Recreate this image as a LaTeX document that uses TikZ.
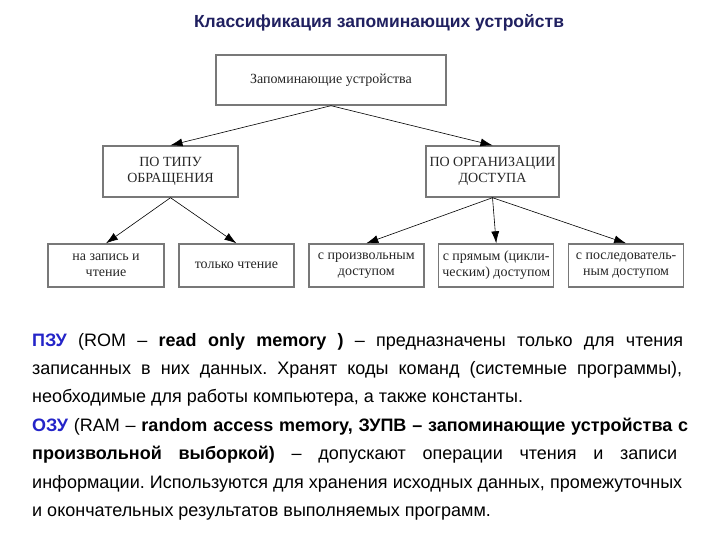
\documentclass[tikz,border=0pt]{standalone}
\usepackage{fontspec}
\setmainfont{Liberation Sans}
\newfontfamily\boxfont{Liberation Serif}
\usetikzlibrary{%
  positioning,
  arrows.meta,
}
\definecolor{titlenavy}{RGB}{32,32,96}
\definecolor{keyblue}{RGB}{36,36,200}
\definecolor{framegray}{RGB}{120,120,120}
\newcommand{\keyterm}[1]{\textbf{\textcolor{keyblue}{#1}}}
\newcommand{\fullline}[2][651pt]{\makebox[#1][s]{#2}}
\frenchspacing

\begin{document}
\begin{tikzpicture}[
    x=1pt, y=-1pt,
    every text node part/.style={align=center},
    node distance=13.5pt,
    device/.style={
      % The shape:
      rectangle,
      % The border:
      draw=framegray,
      line width=1.4pt,
      % The text:
      font=\boxfont\fontsize{14}{16}\selectfont,
      text=black!85,
      inner sep=0pt,
    },
    leaf/.style={device, minimum width=115pt, minimum height=43pt},
    link/.style={-{Latex[length=12pt, width=8pt]}, semithick, black},
    textline/.style={
      anchor=base west,
      inner sep=0pt,
      align=left,
      font=\fontsize{18}{21}\selectfont,
    }]

    \useasboundingbox (0,0) rectangle (720,540);

    \node[font=\bfseries\fontsize{17.5}{20}\selectfont, text=titlenavy, anchor=base]
      (title) at (379,28) {Классификация запоминающих устройств};

    % the tree
    \node[device, minimum width=230pt, minimum height=50pt] (devices) at (331,80) {Запоминающие устройства};
    \node[device, minimum width=135pt, minimum height=51pt] (bytype) at (170.5,171.5) {ПО ТИПУ\\ОБРАЩЕНИЯ};
    \node[device, minimum width=133pt, minimum height=51pt] (byaccess) at (492.5,171.5) {ПО ОРГАНИЗАЦИИ\\ДОСТУПА};

    \node[leaf, minimum width=116pt] (readwrite) at (106,265.5) {на запись и\\чтение};
    \node[leaf] (readonly) [right=of readwrite] {только чтение};
    \node[leaf] (random) [right=of readonly] {с произвольным\\доступом};
    \node[leaf] (direct) [right=of random] {с прямым (цикли-\\ческим) доступом};
    \node[leaf] (serial) [right=of direct] {с последователь-\\ным доступом};

    \draw[link] (devices.south) -- (bytype.north);
    \draw[link] (devices.south) -- (byaccess.north);
    \draw[link] (bytype.south) -- (readwrite.north);
    \draw[link] (bytype.south) -- (readonly.north);
    \draw[link] (byaccess.south) -- (random.north);
    \draw[link] (byaccess.south) -- (direct.north);
    \draw[link] (byaccess.south) -- (serial.north);

    % the text below
    \node[textline] (line1) at (32,346) {\fullline{\keyterm{ПЗУ} (ROM – \textbf{read only memory )} – предназначены только для чтения}};
    \node[textline] (line2) at (32,374.4) {\fullline[650pt]{записанных в них данных. Хранят коды команд (системные программы),}};
    \node[textline] (line3) at (32,402.8) {необходимые для работы компьютера, а также константы.};
    \node[textline] (line4) at (32,431.2) {\fullline[656pt]{\keyterm{ОЗУ} (RAM – \textbf{random access memory, ЗУПВ – запоминающие устройства с}}};
    \node[textline] (line5) at (32,459.6) {\fullline[645pt]{\textbf{произвольной выборкой)} – допускают операции чтения и записи}};
    \node[textline] (line6) at (32,488) {\fullline[650pt]{информации. Используются для хранения исходных данных, промежуточных}};
    \node[textline] (line7) at (32,516.4) {и окончательных результатов выполняемых программ.};
  \end{tikzpicture}
\end{document}
